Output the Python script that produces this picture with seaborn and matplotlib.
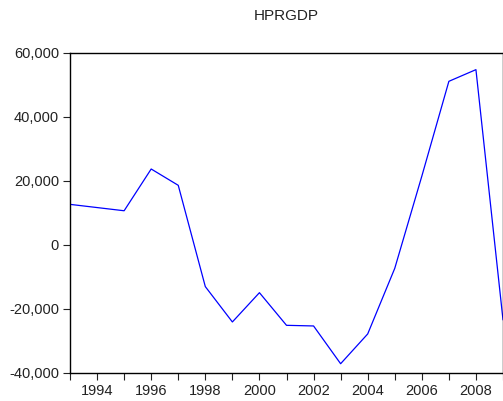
import matplotlib
matplotlib.use("Agg")
import matplotlib.pyplot as plt
import matplotlib.ticker as mticker
import seaborn as sns
import pandas as pd

years = [1993, 1994, 1995, 1996, 1997, 1998, 1999, 2000, 2001, 2002,
         2003, 2004, 2005, 2006, 2007, 2008, 2009]
hprgdp = [12700, 11700, 10700, 23750, 18650, -13000, -24050, -14900, -25100,
          -25300, -37100, -27800, -7300, 21500, 51150, 54800, -23400]
title = "HPRGDP"

df = pd.DataFrame({"year": years, "value": hprgdp})

sns.set_style("ticks")
plt.rcParams['font.family'] = ['Liberation Sans', 'DejaVu Sans']

fig = plt.figure(figsize=(5.03, 4.01), dpi=100)
ax = fig.add_axes([70 / 503, 28 / 401, 433 / 503, 320 / 401])
sns.lineplot(data=df, x="year", y="value", ax=ax, color="#0000ff", linewidth=0.9)

ax.set_xlim(1993, 2009)
ax.set_ylim(-40000, 60000)
ax.set_xticks(range(1994, 2009, 2))
ax.set_xticks(range(1993, 2010), minor=True)
ax.set_yticks(range(-40000, 60001, 20000))
ax.yaxis.set_major_formatter(mticker.FuncFormatter(lambda v, p: f"{int(v):,}"))
ax.tick_params(axis="both", which="both", direction="out", labelsize=10.5,
               colors="#222222", width=0.8, pad=3)
ax.tick_params(axis="x", which="both", length=5)
ax.tick_params(axis="y", length=5)
ax.set_xlabel("")
ax.set_ylabel("")
for s in ax.spines.values():
    s.set_color("black")
    s.set_linewidth(1.0)
ax.set_title(title, fontsize=11, pad=24, color="#222222")

fig.savefig("out.png", dpi=100)
